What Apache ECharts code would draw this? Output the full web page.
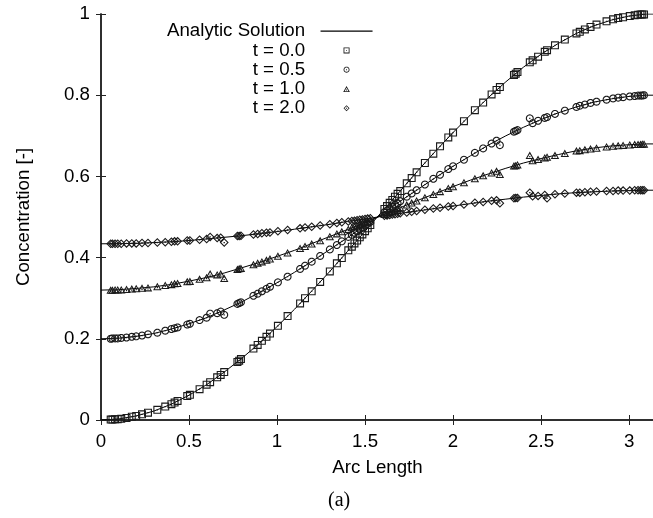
<!DOCTYPE html>
<html><head><meta charset="utf-8">
<script src="https://cdn.jsdelivr.net/npm/echarts@6/dist/echarts.min.js"></script>
<style>html,body{margin:0;padding:0;background:#fff}#c{width:653px;height:518px}</style>
</head><body><div id="c"></div>
<script>
// ---- data ----
const arcLength = [0.055,0.065,0.08,0.095,0.115,0.145,0.175,0.2,0.233,0.267,0.32,0.365,0.4,0.418,0.435,0.49,0.505,0.56,0.6,0.62,0.66,0.68,0.70,0.775,0.785,0.795,0.866,0.89,0.914,0.94,0.96,1.005,1.06,1.131,1.159,1.197,1.245,1.30,1.34,1.368,1.405,1.425,1.44,1.455,1.47,1.485,1.50,1.515,1.53,1.61,1.625,1.64,1.655,1.67,1.685,1.70,1.737,1.765,1.793,1.84,1.888,1.926,1.973,2.0,2.062,2.124,2.171,2.219,2.247,2.266,2.346,2.356,2.366,2.436,2.452,2.483,2.521,2.534,2.579,2.635,2.701,2.72,2.749,2.781,2.815,2.872,2.909,2.938,2.966,3.004,3.032,3.051,3.065,3.075,3.085];
const concT00 = [0.001,0.001,0.002,0.002,0.003,0.005,0.008,0.010,0.014,0.018,0.025,0.033,0.039,0.043,0.047,0.059,0.062,0.076,0.087,0.093,0.105,0.111,0.118,0.143,0.146,0.150,0.176,0.185,0.195,0.205,0.213,0.232,0.256,0.287,0.300,0.317,0.340,0.366,0.386,0.399,0.418,0.427,0.435,0.442,0.450,0.457,0.465,0.472,0.480,0.520,0.527,0.535,0.542,0.550,0.557,0.564,0.583,0.596,0.610,0.633,0.656,0.674,0.696,0.708,0.736,0.763,0.782,0.802,0.813,0.820,0.850,0.853,0.857,0.881,0.886,0.895,0.907,0.911,0.923,0.937,0.952,0.956,0.962,0.968,0.974,0.982,0.987,0.990,0.992,0.995,0.997,0.998,0.999,0.999,0.999];
const concT05 = [0.200,0.201,0.201,0.201,0.202,0.203,0.205,0.206,0.208,0.211,0.215,0.220,0.224,0.226,0.228,0.235,0.237,0.246,0.252,0.262,0.263,0.267,0.259,0.286,0.288,0.290,0.306,0.311,0.317,0.323,0.328,0.339,0.353,0.372,0.380,0.390,0.404,0.420,0.431,0.440,0.451,0.456,0.461,0.465,0.470,0.474,0.479,0.483,0.488,0.512,0.516,0.521,0.525,0.530,0.534,0.539,0.550,0.558,0.566,0.580,0.594,0.604,0.618,0.625,0.641,0.658,0.669,0.681,0.688,0.677,0.710,0.712,0.714,0.743,0.731,0.737,0.744,0.746,0.754,0.762,0.771,0.774,0.777,0.781,0.784,0.789,0.792,0.794,0.795,0.797,0.798,0.799,0.799,0.799,0.800];
const concT10 = [0.320,0.320,0.321,0.321,0.321,0.322,0.323,0.324,0.325,0.326,0.329,0.332,0.334,0.336,0.337,0.341,0.342,0.347,0.351,0.360,0.358,0.360,0.349,0.371,0.373,0.374,0.383,0.387,0.390,0.394,0.397,0.404,0.412,0.423,0.428,0.434,0.442,0.452,0.459,0.464,0.470,0.474,0.477,0.479,0.482,0.485,0.487,0.490,0.493,0.507,0.510,0.512,0.515,0.518,0.521,0.523,0.530,0.535,0.540,0.548,0.556,0.563,0.571,0.575,0.585,0.595,0.602,0.609,0.613,0.605,0.626,0.627,0.629,0.652,0.639,0.642,0.646,0.648,0.652,0.657,0.663,0.664,0.666,0.668,0.670,0.673,0.675,0.676,0.677,0.678,0.679,0.679,0.679,0.680,0.680];
const concT20 = [0.434,0.434,0.434,0.434,0.434,0.435,0.435,0.435,0.436,0.436,0.437,0.438,0.439,0.440,0.440,0.442,0.442,0.444,0.446,0.451,0.448,0.449,0.437,0.453,0.453,0.454,0.457,0.458,0.460,0.461,0.462,0.465,0.468,0.472,0.474,0.476,0.479,0.482,0.485,0.487,0.489,0.490,0.491,0.492,0.493,0.494,0.495,0.496,0.497,0.503,0.504,0.505,0.506,0.507,0.508,0.509,0.511,0.513,0.515,0.518,0.521,0.523,0.526,0.527,0.531,0.535,0.537,0.540,0.541,0.534,0.546,0.547,0.547,0.560,0.551,0.552,0.554,0.546,0.556,0.558,0.560,0.560,0.561,0.562,0.563,0.564,0.564,0.565,0.565,0.565,0.566,0.566,0.566,0.566,0.566];

const curveArc = [0,0.1,0.2,0.3,0.4,0.5,0.6,0.7,0.8,0.9,1.0,1.1,1.2,1.3,1.4,1.5,1.6,1.7,1.8,1.9,2.0,2.1,2.2,2.3,2.4,2.5,2.6,2.7,2.8,2.9,3.0,3.1,3.1416];
const curveT00 = [0,0.0025,0.010,0.022,0.039,0.061,0.087,0.118,0.152,0.189,0.230,0.273,0.319,0.366,0.415,0.465,0.515,0.564,0.614,0.662,0.708,0.752,0.794,0.833,0.869,0.901,0.928,0.952,0.971,0.985,0.995,1.000,1.0];
const curveT05 = [0.2,0.2015,0.206,0.213,0.224,0.237,0.252,0.271,0.291,0.314,0.338,0.364,0.391,0.420,0.449,0.479,0.509,0.539,0.568,0.597,0.625,0.651,0.677,0.700,0.721,0.740,0.757,0.771,0.783,0.791,0.797,0.800,0.8];
const curveT10 = [0.32,0.321,0.324,0.328,0.334,0.342,0.351,0.362,0.375,0.388,0.403,0.418,0.435,0.452,0.469,0.487,0.505,0.523,0.541,0.558,0.575,0.591,0.606,0.620,0.633,0.644,0.654,0.663,0.670,0.675,0.678,0.680,0.68];
const curveT20 = [0.434,0.4343,0.435,0.437,0.439,0.442,0.446,0.450,0.454,0.459,0.464,0.470,0.476,0.482,0.489,0.495,0.502,0.509,0.515,0.521,0.527,0.533,0.539,0.544,0.549,0.553,0.557,0.560,0.562,0.564,0.565,0.566,0.566];

const lineName = 'Analytic Solution';
const markerNames = ['t = 0.0','t = 0.5','t = 1.0','t = 2.0'];

// ---- marker shapes (outline with centre dot, hollow inside) ----
function ringPath(pts, cx, cy, k, d) {
  const f = p => p[0].toFixed(3) + ' ' + p[1].toFixed(3);
  let s = 'M' + pts.map(f).join('L') + 'Z';
  const inner = pts.map(p => [cx + (p[0] - cx) * k, cy + (p[1] - cy) * k]).reverse();
  s += 'M' + inner.map(f).join('L') + 'Z';
  s += 'M' + (cx - d) + ' ' + (cy - d) + 'L' + (cx + d) + ' ' + (cy - d) + 'L' + (cx + d) + ' ' + (cy + d) + 'L' + (cx - d) + ' ' + (cy + d) + 'Z';
  return 'path://' + s;
}
const circlePts = [];
for (let i = 0; i < 24; i++) { const a = Math.PI * 2 * i / 24; circlePts.push([5 + 5 * Math.cos(a), 5 + 5 * Math.sin(a)]); }
const symSquare = ringPath([[0,0],[10,0],[10,10],[0,10]], 5, 5, 0.72, 0.75);
const symCircle = ringPath(circlePts, 5, 5, 0.72, 0.75);
const symTriangle = ringPath([[5,0],[10,9],[0,9]], 5, 6, 0.58, 0.75);
const symDiamond = ringPath([[5,0],[10,5],[5,10],[0,5]], 5, 5, 0.66, 0.75);

const font = '"Liberation Sans", Arial, Helvetica, sans-serif';
const fs = 18.7;
const axColor = '#222';

const curves = [curveT00, curveT05, curveT10, curveT20];
const concs = [concT00, concT05, concT10, concT20];
const syms = [symSquare, symCircle, symTriangle, symDiamond];
const symSizes = [[8,8],[8,8],[8.5,7.5],[9,9]];

const series = [];
curves.forEach(c => {
  series.push({
    type: 'line', name: lineName, data: curveArc.map((x, i) => [x, c[i]]),
    symbol: 'none', showSymbol: false, lineStyle: {color: '#000', width: 1}, itemStyle: {color: '#000'},
    silent: true, z: 2
  });
});
concs.forEach((c, k) => {
  series.push({
    type: 'scatter', name: markerNames[k], data: arcLength.map((x, i) => [x, c[i]]),
    symbol: syms[k], symbolSize: symSizes[k],
    itemStyle: {color: '#1a1a1a', opacity: 1}, silent: true, z: 3
  });
});

const tickStyle = {show: true, inside: true, length: 5, lineStyle: {color: axColor, width: 1}};
const lineStyleAx = {show: true, lineStyle: {color: axColor, width: 1.5}};

const option = {
  animation: false,
  backgroundColor: '#fff',
  textStyle: {fontFamily: font},
  grid: {left: 101, top: 14, width: 553, height: 406, outerBoundsMode: 'none', containLabel: false},
  legend: {
    orient: 'vertical', left: 167, top: 21.6, padding: 0, itemGap: 0.3, align: 'right',
    itemWidth: 52, itemHeight: 6, selectedMode: false,
    data: [{name: lineName, icon: 'path://M0 0L52 0L52 1.3L0 1.3Z'}].concat(markerNames),
    formatter: n => n + '  ',
    textStyle: {fontSize: fs, color: '#000', fontFamily: font}
  },
  xAxis: [{
    type: 'value', min: 0, max: Math.PI, interval: 0.5,
    name: 'Arc Length', nameLocation: 'middle', nameGap: 38,
    nameTextStyle: {fontSize: fs, color: '#000', fontFamily: font},
    axisLine: lineStyleAx, axisTick: tickStyle,
    axisLabel: {fontSize: fs, color: '#000', margin: 12, showMaxLabel: false, fontFamily: font,
      formatter: v => (Math.abs(v * 2 - Math.round(v * 2)) < 1e-6 ? String(v) : '')},
    splitLine: {show: false}
  }, {
    type: 'value', position: 'top', min: 0, max: Math.PI, interval: 0.5,
    axisLine: lineStyleAx, axisTick: tickStyle, axisLabel: {show: false}, splitLine: {show: false}
  }],
  yAxis: [{
    type: 'value', min: 0, max: 1, interval: 0.2,
    name: 'Concentration [-]', nameLocation: 'middle', nameGap: 68,
    nameTextStyle: {fontSize: fs, color: '#000', fontFamily: font},
    axisLine: lineStyleAx, axisTick: tickStyle,
    axisLabel: {fontSize: fs, color: '#000', margin: 11, fontFamily: font},
    splitLine: {show: false}
  }, {
    type: 'value', position: 'right', min: 0, max: 1, interval: 0.2,
    axisLine: lineStyleAx, axisTick: tickStyle, axisLabel: {show: false}, splitLine: {show: false}
  }],
  graphic: [{
    type: 'text', left: 328, top: 491,
    style: {text: '(a)', fontSize: 20, fontFamily: '"Liberation Serif", "Times New Roman", serif', fill: '#000'}
  }],
  series: series
};
const chart = echarts.init(document.getElementById('c'), null, {renderer: 'canvas'});
chart.setOption(option);
</script>
</body></html>
